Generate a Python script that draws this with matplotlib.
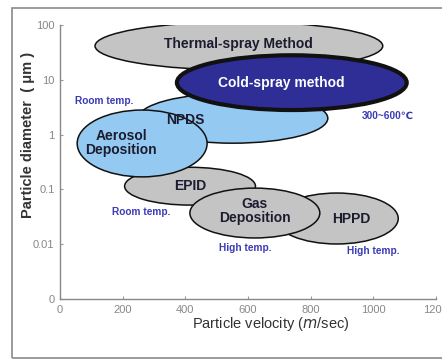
import matplotlib.pyplot as plt
from matplotlib.patches import Ellipse, Rectangle

# Process windows: particle velocity (m/sec) vs particle diameter.
# y is in "decade position": 0 -> 0, 1 -> 0.01, 2 -> 0.1, 3 -> 1, 4 -> 10, 5 -> 100 um
methods = ['Thermal-spray Method', 'NPDS', 'Cold-spray method', 'EPID',
           'Aerosol\nDeposition', 'HPPD', 'Gas\nDeposition']
vel_center = [571, 552, 740, 415, 262, 884, 622]
vel_width = [919, 606, 734, 418, 415, 392, 415]
dia_center = [4.62, 3.30, 3.95, 2.06, 2.84, 1.47, 1.57]
dia_height = [0.88, 0.91, 1.00, 0.69, 1.22, 0.93, 0.91]
fills = ['#c4c4c4', '#94caf2', '#2e2e96', '#c4c4c4', '#94caf2', '#c4c4c4', '#c4c4c4']
label_x = [571, 400, 705, 415, 195, 930, 622]
label_y = [4.66, 3.26, 3.94, 2.07, 2.84, 1.46, 1.60]

temp_notes = ['Room temp.', '300~600\u2103', 'Room temp.', 'High temp.', 'High temp.']
note_x = [140, 1045, 260, 590, 1000]
note_y = [3.62, 3.35, 1.58, 0.94, 0.88]

xticks = [0, 200, 400, 600, 800, 1000, 1200]
yticks = [0, 1, 2, 3, 4, 5]
ytick_labels = ['0', '0.01', '0.1', '1', '10', '100']

plt.rcParams['font.family'] = ['Liberation Sans', 'DejaVu Sans']

fig = plt.figure(figsize=(4.42, 3.59), dpi=100)
ax = fig.add_axes([0.136, 0.167, 0.850, 0.763])

# outer frame of the picture
fig.patches.append(Rectangle((12 / 442, 1 / 359), 1.0, 350 / 359, transform=fig.transFigure,
                             fill=False, edgecolor='#8a8a8a', linewidth=1.2))

for i in range(len(methods)):
    lw = 3.0 if i == 2 else 1.1
    ax.add_patch(Ellipse((vel_center[i], dia_center[i]), vel_width[i], dia_height[i],
                         facecolor=fills[i], edgecolor='#111111', linewidth=lw, zorder=2 + i))
    tc = 'white' if i == 2 else '#1c1c30'
    ax.text(label_x[i], label_y[i], methods[i], ha='center', va='center', color=tc,
            fontsize=10, fontweight='bold', linespacing=1.0, zorder=20)

for t, x, y in zip(temp_notes, note_x, note_y):
    ax.text(x, y, t, ha='center', va='center', color='#3b3bb5', fontsize=7.3,
            fontweight='bold', zorder=20)

ax.set_xlim(0, 1200)
ax.set_ylim(0, 5)
ax.set_xticks(xticks)
ax.set_yticks(yticks)
ax.set_yticklabels(ytick_labels)
ax.tick_params(direction='in', length=2, colors='#999999', labelsize=8, labelcolor='#888888', pad=4)
for s in ['top', 'right']:
    ax.spines[s].set_visible(False)
for s in ['left', 'bottom']:
    ax.spines[s].set_color('#888888')
    ax.spines[s].set_linewidth(1.0)

ax.set_xlabel('Particle velocity ($m$/sec)', fontsize=10.5, color='#333333')
ax.xaxis.set_label_coords(0.56, -0.06)
ax.set_ylabel('Particle diameter  ( \u03bcm )', fontsize=10.5, fontweight='bold', color='#333333')
ax.yaxis.set_label_coords(-0.068, 0.6)

plt.savefig('out.png', dpi=100)
